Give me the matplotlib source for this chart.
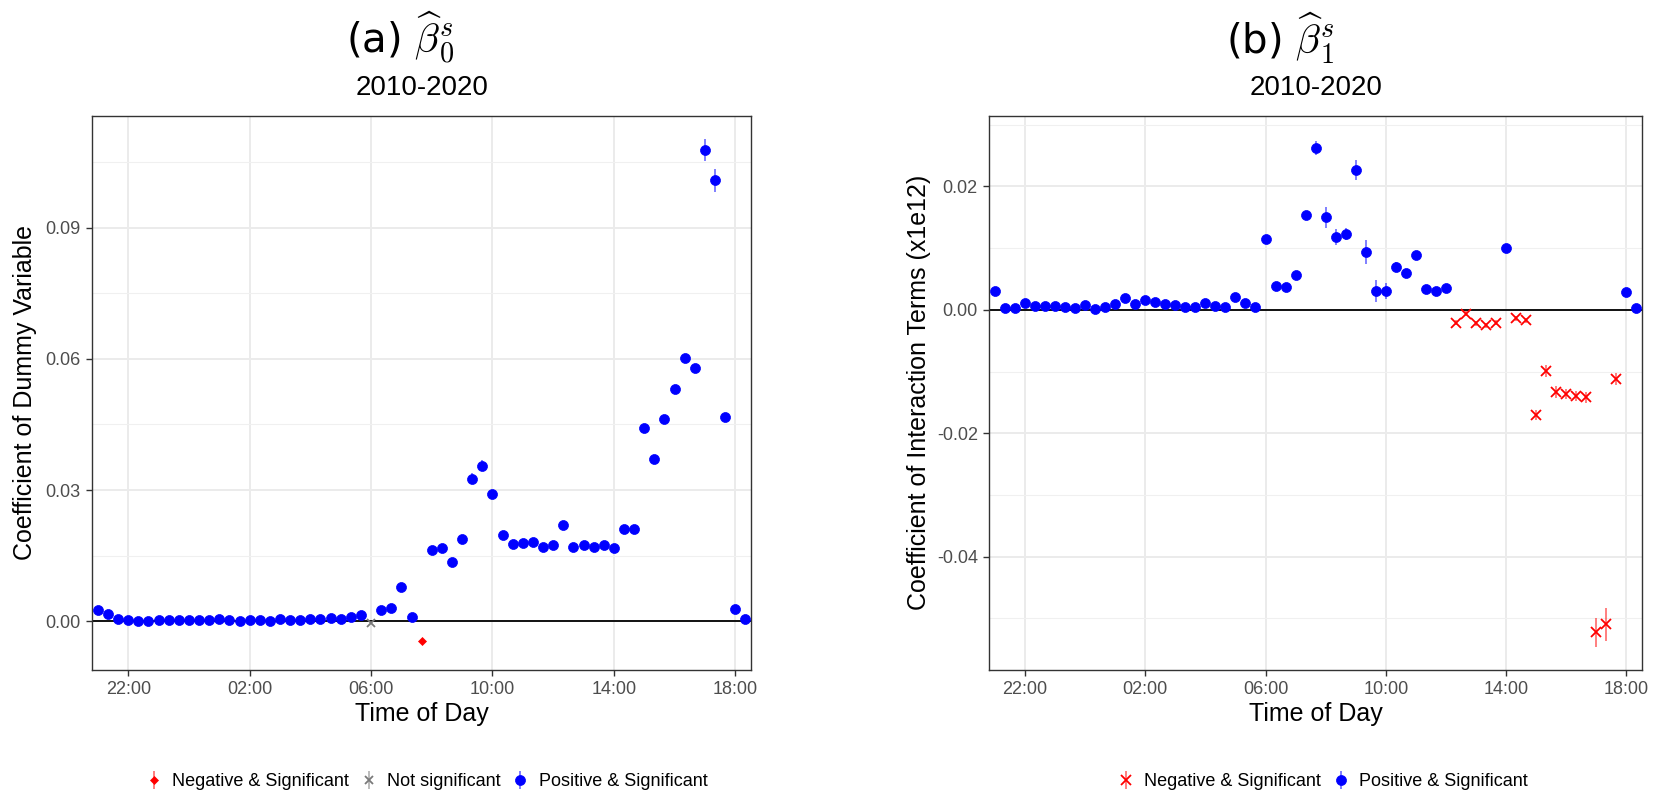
"""Time-of-day coefficients (dummy and interaction terms), two panels."""

import matplotlib

matplotlib.use("Agg")
import matplotlib.dates as mdates
import matplotlib.pyplot as plt
import numpy as np
import pandas as pd
from matplotlib.colors import to_rgba
from matplotlib.ticker import FixedLocator

plt.rcParams["font.family"] = ["Liberation Sans", "DejaVu Sans"]
plt.rcParams["mathtext.fontset"] = "cm"

# 20-minute slots from 21:00 to 18:20 the next day
times = pd.date_range("2020-01-01 21:00", "2020-01-02 18:20", freq="20min")

# --- panel (a): coefficient of dummy variable ---
coef_a = [
    0.0025, 0.0017, 0.0006, 0.0002, 0.0001, 0.0001, 0.0002, 0.0003, 0.0003, 0.00035, 0.00035, 0.0003,
    0.0004, 0.0002, 0.0001, 0.0002, 0.0003, 0.0001, 0.0005, 0.0003, 0.00035, 0.0004, 0.0006, 0.0008,
    0.0004, 0.0009, 0.0013, -0.0004, 0.0025, 0.0031, 0.0078, 0.0010, -0.0045, 0.0162, 0.0168, 0.0136,
    0.0187, 0.0326, 0.0356, 0.0291, 0.0197, 0.0177, 0.0179, 0.0182, 0.0169, 0.0175, 0.0221, 0.0169,
    0.0175, 0.0170, 0.0174, 0.0168, 0.0211, 0.0211, 0.0441, 0.0372, 0.0462, 0.0530, 0.0602, 0.0580,
    0.1078, 0.1008, 0.0466, 0.0028, 0.0004,
]
err_a = [
    0.0002, 0.0002, 0.0002, 0.0002, 0.0002, 0.0002, 0.0002, 0.0002, 0.0002, 0.0002, 0.0002, 0.0002,
    0.0002, 0.0002, 0.0002, 0.0002, 0.0002, 0.0002, 0.0002, 0.0002, 0.0002, 0.0002, 0.0002, 0.0002,
    0.0002, 0.0002, 0.0002, 0.0003, 0.0003, 0.0003, 0.0004, 0.0003, 0.0003, 0.0005, 0.0005, 0.0005,
    0.0008, 0.0012, 0.0012, 0.0006, 0.0004, 0.0004, 0.0004, 0.0004, 0.0004, 0.0004, 0.0004, 0.0004,
    0.0004, 0.0004, 0.0004, 0.0004, 0.0005, 0.0005, 0.0006, 0.0006, 0.0006, 0.0006, 0.0007, 0.0007,
    0.0025, 0.0027, 0.0007, 0.0003, 0.0002,
]
# "+" positive & significant, "-" negative & significant, "o" not significant
status_a = (
    "++++++++++++"
    "++++++++++++"
    "+++o++++-+++"
    "++++++++++++"
    "++++++++++++"
    "+++++"
)

# --- panel (b): coefficient of interaction terms (x1e12) ---
coef_b = [
    0.0030, 0.0003, 0.0003, 0.0011, 0.0007, 0.0006, 0.0006, 0.0004, 0.0003, 0.00075, 0.0002, 0.0004,
    0.0009, 0.0020, 0.0009, 0.0016, 0.0012, 0.0009, 0.0008, 0.0005, 0.0005, 0.0011, 0.0006, 0.0004,
    0.0021, 0.0011, 0.0004, 0.0115, 0.0038, 0.0037, 0.0056, 0.0153, 0.0262, 0.0150, 0.0118, 0.0123,
    0.0227, 0.0094, 0.0031, 0.0031, 0.0069, 0.0059, 0.0089, 0.0034, 0.0030, 0.0036, -0.0021, -0.0006,
    -0.0022, -0.0025, -0.0021, 0.0100, -0.0014, -0.0017, -0.0170, -0.0099, -0.0133, -0.0136, -0.0140, -0.0142,
    -0.0523, -0.0510, -0.0112, 0.0029, 0.0003,
]
err_b = [
    0.0002, 0.0002, 0.0002, 0.0002, 0.0002, 0.0002, 0.0002, 0.0002, 0.0002, 0.0002, 0.0002, 0.0002,
    0.0002, 0.0002, 0.0002, 0.0002, 0.0002, 0.0002, 0.0002, 0.0002, 0.0002, 0.0002, 0.0002, 0.0002,
    0.0002, 0.0002, 0.0002, 0.0004, 0.0004, 0.0004, 0.0004, 0.0006, 0.0011, 0.0017, 0.0013, 0.0009,
    0.0016, 0.0020, 0.0018, 0.0013, 0.0008, 0.0005, 0.0005, 0.0004, 0.0004, 0.0004, 0.0004, 0.0004,
    0.0004, 0.0004, 0.0004, 0.0004, 0.0004, 0.0004, 0.0008, 0.0010, 0.0010, 0.0008, 0.0008, 0.0009,
    0.0024, 0.0027, 0.0010, 0.0003, 0.0002,
]
status_b = (
    "++++++++++++"
    "++++++++++++"
    "++++++++++++"
    "++++++++++--"
    "---+--------"
    "---++"
)

# marker style per status: (label, colour, marker, size)
styles_a = {
    "-": ("Negative & Significant", "#ff0000", "D", 3.6),
    "o": ("Not significant", "#7a7a7a", "x", 6.0),
    "+": ("Positive & Significant", "#0000ff", "o", 7.2),
}
styles_b = {
    "-": ("Negative & Significant", "#ff0000", "x", 6.8),
    "+": ("Positive & Significant", "#0000ff", "o", 7.2),
}

W, H = 1656, 795
fig = plt.figure(figsize=(W / 100, H / 100), dpi=100)

pad = pd.Timedelta(minutes=11)
xlim = (mdates.date2num(times[0] - pad), mdates.date2num(times[-1] + pad))


def draw_panel(ax, coef, err, status, styles, ylim, major, minor, ylabel):
    coef = np.asarray(coef)
    err = np.asarray(err)
    st = np.array(list(status))
    ax.axhline(0, color="black", lw=1.3, zorder=2)
    handles = []
    for key, (label, color, marker, ms) in styles.items():
        m = st == key
        h = ax.errorbar(
            times[m], coef[m], yerr=err[m], fmt=marker, color=color,
            ecolor=to_rgba(color, 0.5), elinewidth=1.4, capsize=0,
            ms=ms, mew=1.3 if marker == "x" else 0.5, zorder=3, label=label,
        )
        handles.append(h)

    ax.set_xlim(*xlim)
    ax.set_ylim(*ylim)
    ax.xaxis.set_major_locator(mdates.HourLocator(byhour=[22, 2, 6, 10, 14, 18]))
    ax.xaxis.set_major_formatter(mdates.DateFormatter("%H:%M"))
    ax.yaxis.set_major_locator(FixedLocator(major))
    ax.set_yticklabels([f"{v:.2f}" for v in major])
    ax.yaxis.set_minor_locator(FixedLocator(minor))

    ax.set_axisbelow(True)
    ax.grid(True, which="major", color="#ebebeb", lw=1.4)
    ax.grid(True, which="minor", axis="y", color="#f0f0f0", lw=0.8)
    for sp in ax.spines.values():
        sp.set_color("#333333")
        sp.set_linewidth(1.0)
    ax.tick_params(which="major", length=4.3, width=1.0, color="#333333",
                   labelcolor="#4d4d4d", labelsize=13, pad=4)
    ax.tick_params(which="minor", length=0)

    ax.set_xlabel("Time of Day", fontsize=18)
    ax.xaxis.label.set_va("center")
    ax.xaxis.set_label_coords(0.5, -0.081)
    ax.set_ylabel(ylabel, fontsize=18)
    ax.yaxis.label.set_va("center")
    return handles


ax1 = fig.add_axes([92.3 / W, 1 - 669.5 / H, 658.7 / W, 553.8 / H])
h1 = draw_panel(
    ax1, coef_a, err_a, status_a, styles_a, (-0.01105, 0.1156),
    [0.0, 0.03, 0.06, 0.09], [0.015, 0.045, 0.075, 0.105],
    "Coefficient of Dummy Variable",
)
ax1.yaxis.set_label_coords((25 - 92.3) / 658.7, 0.5)

ax2 = fig.add_axes([989.3 / W, 1 - 669.5 / H, 652.7 / W, 553.8 / H])
h2 = draw_panel(
    ax2, coef_b, err_b, status_b, styles_b, (-0.0583, 0.03147),
    [-0.04, -0.02, 0.0, 0.02], [-0.05, -0.03, -0.01, 0.01, 0.03],
    "Coefficient of Interaction Terms (x1e12)",
)
ax2.yaxis.set_label_coords((919 - 989.3) / 652.7, 0.5)

# titles
title_kw = dict(fontsize=29, ha="center", va="center",
                family=["DejaVu Sans", "Liberation Sans"])
fig.text(400 / W, 1 - 38 / H, r"(a) $\widehat{\beta}_0^s$", **title_kw)
fig.text(1280 / W, 1 - 38 / H, r"(b) $\widehat{\beta}_1^s$", **title_kw)
fig.text(421.7 / W, 1 - 88 / H, "2010-2020", fontsize=20, ha="center", va="center")
fig.text(1315.7 / W, 1 - 88 / H, "2010-2020", fontsize=20, ha="center", va="center")

# legends below each panel
leg_kw = dict(loc="center", ncol=3, frameon=False, fontsize=13, handlelength=0.6,
              handletextpad=0.7, columnspacing=0.8, borderaxespad=0)
fig.legend(handles=h1, bbox_to_anchor=(428 / W, 1 - 782 / H), **leg_kw)
fig.legend(handles=h2, bbox_to_anchor=(1324 / W, 1 - 782 / H), **leg_kw)

fig.savefig("out.png", dpi=100)
